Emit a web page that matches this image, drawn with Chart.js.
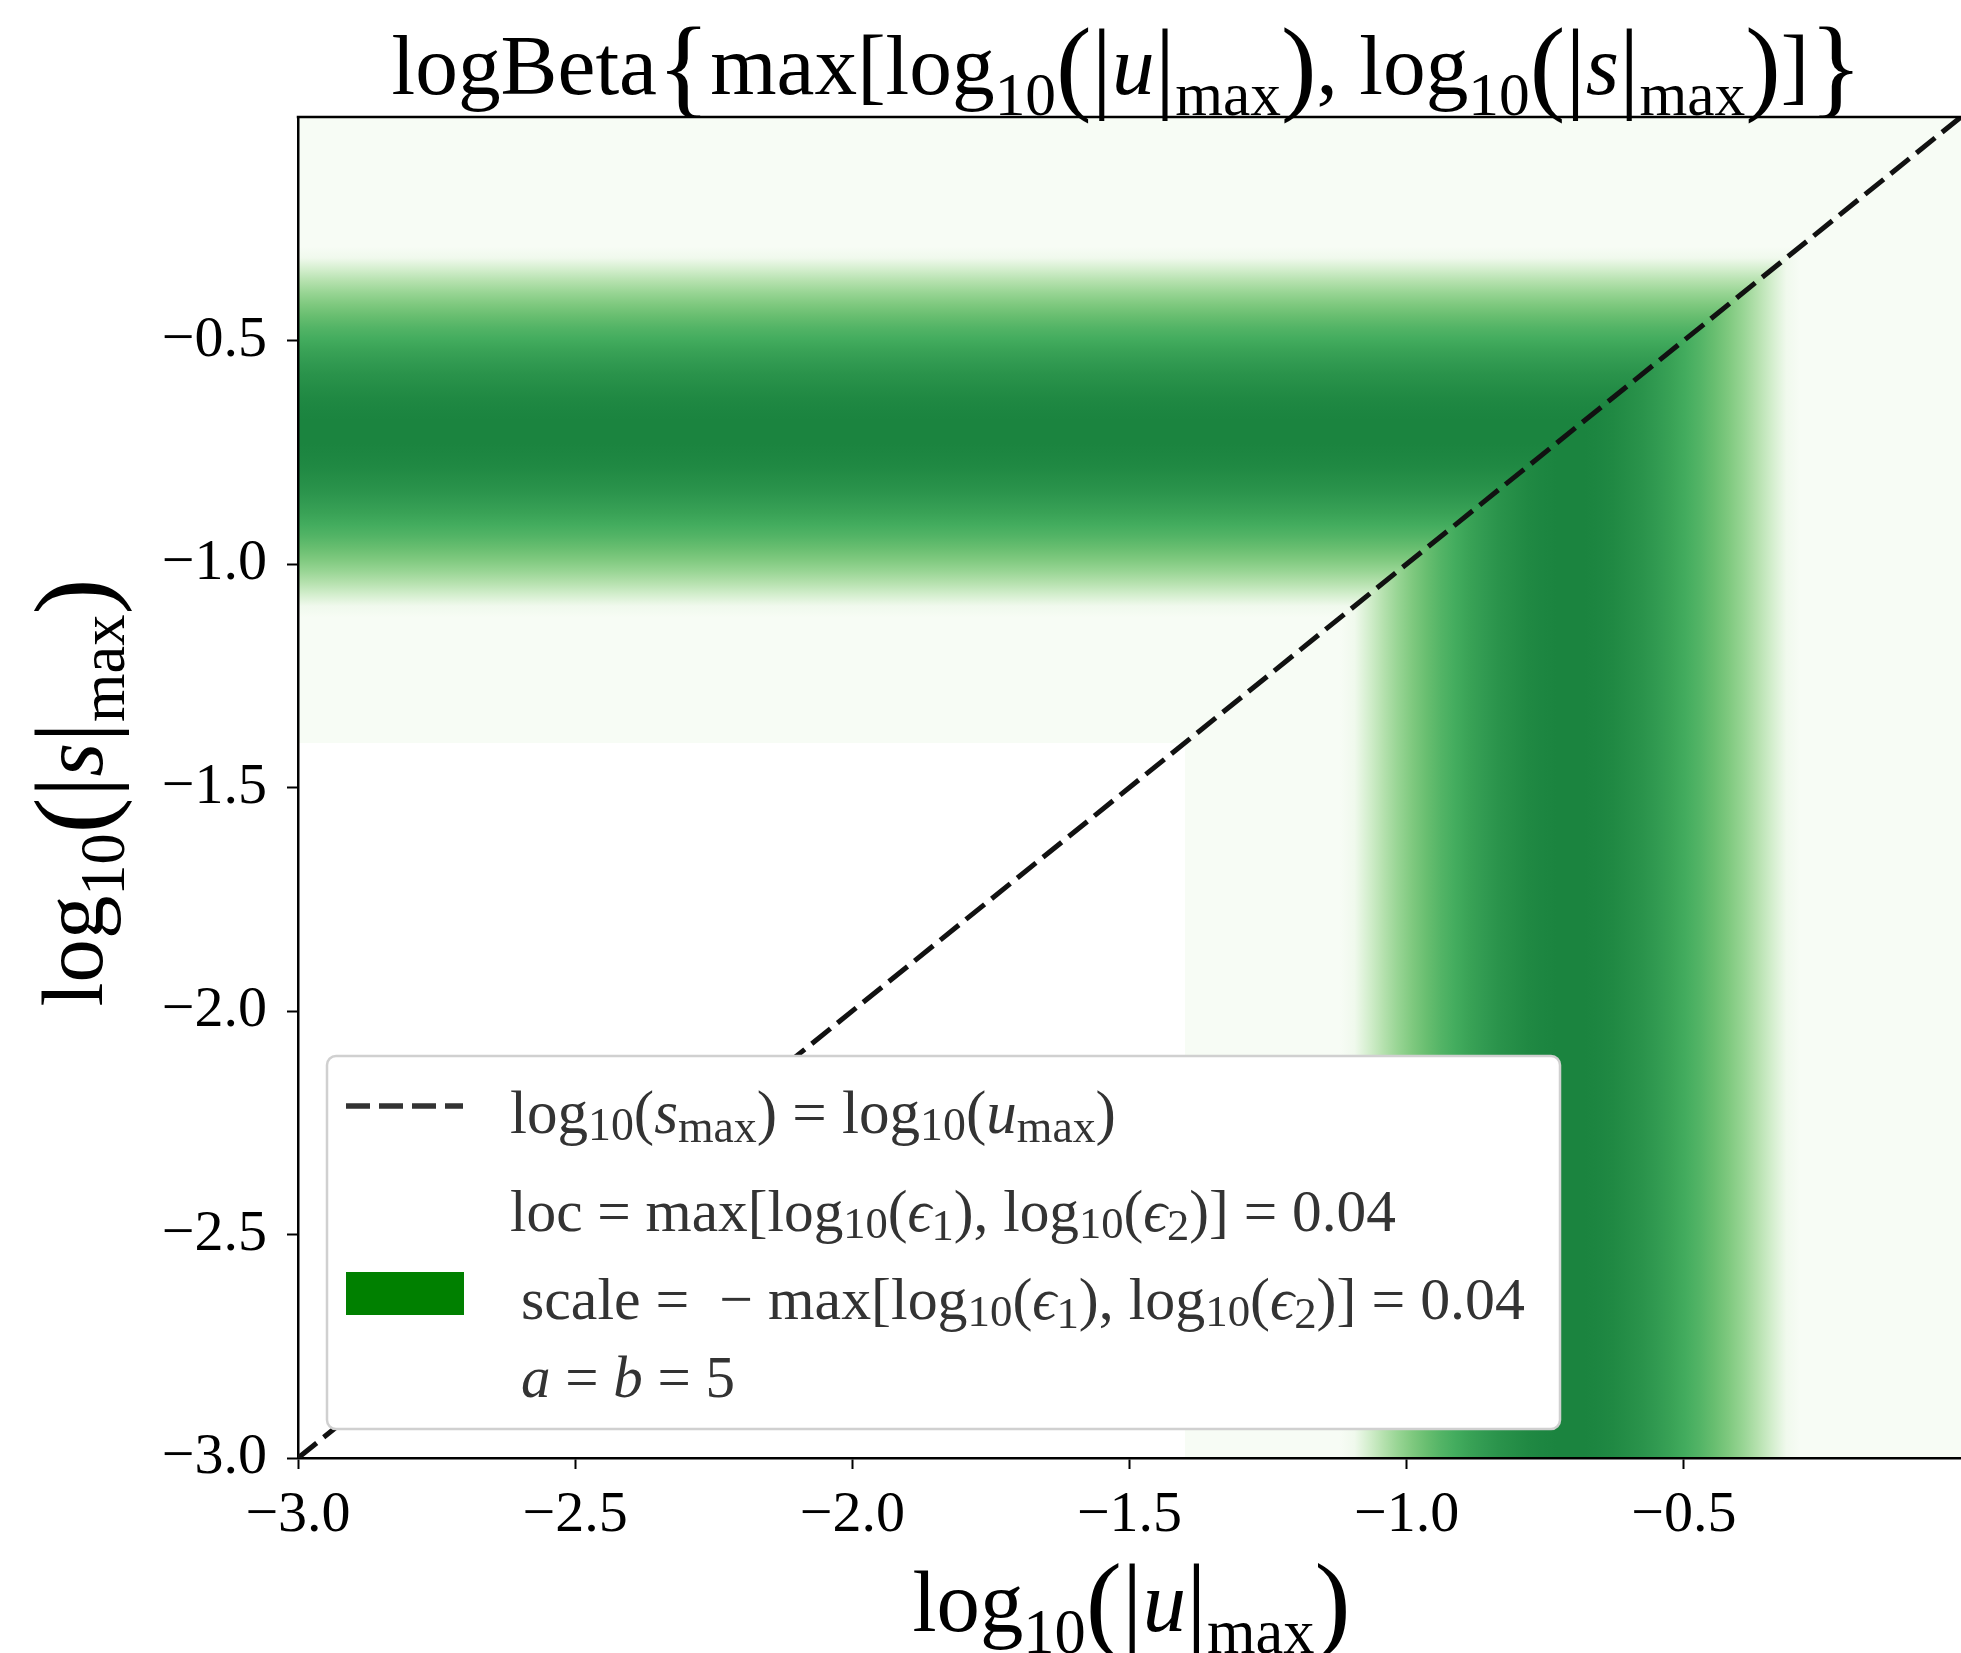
<!DOCTYPE html>
<html><head><meta charset="utf-8">
<script src="https://cdn.jsdelivr.net/npm/chart.js@4.4.1/dist/chart.umd.min.js"></script>
<style>html,body{margin:0;padding:0;background:#fff;overflow:hidden}canvas{display:block}</style>
</head><body>
<canvas id="c" width="1961" height="1653" style="width:1961px;height:1653px"></canvas>
<script>
// ---------------- data ----------------
const xTicks = [-3.0, -2.5, -2.0, -1.5, -1.0, -0.5];
const yTicks = [-3.0, -2.5, -2.0, -1.5, -1.0, -0.5];
const xRange = [-3, 0];
const yRange = [-3, 0];
const diagonalX = [-3, 0];
const diagonalY = [-3, 0];
// value depends on m = max(x, y); below supportMin there is no value (white)
const supportMin = -1.4;
const bandM = [-1.120, -1.094, -1.068, -1.042, -1.016, -0.990, -0.964, -0.938, -0.912, -0.886,
               -0.860, -0.834, -0.808, -0.782, -0.756, -0.730, -0.705, -0.679, -0.653, -0.627,
               -0.601, -0.575, -0.549, -0.523, -0.497, -0.471, -0.445, -0.419, -0.393, -0.367,
               -0.341, -0.315, -0.290];
const bandLevel = [0.00, 0.05, 0.20, 0.31, 0.40, 0.47, 0.53, 0.58, 0.62, 0.66,
                   0.69, 0.72, 0.74, 0.76, 0.77, 0.78, 0.78, 0.78, 0.77, 0.76,
                   0.74, 0.72, 0.69, 0.66, 0.62, 0.58, 0.53, 0.47, 0.40, 0.31,
                   0.20, 0.05, 0.00];
// matplotlib "Greens" colormap
const greens = [[247,252,245],[229,245,224],[199,233,192],[161,217,155],[116,196,118],
                [65,171,93],[35,139,69],[0,109,44],[0,68,27]];

// ---------------- text ----------------
const R = (t, s, dy) => ({t, s: s || 1, dy: dy || 0, it: false});
const I = (t, s, dy) => ({t, s: s || 1, dy: dy || 0, it: true});
const titleSegs = [R('logBeta'), R('{',1.3,0.1), R('max[log'), R('10',0.72,0.25), R('(',1.25,0.08),
  R('|',1.2,0.06), I('u'), R('|',1.2,0.06), R('max',0.72,0.25), R(')',1.25,0.08), R(', log'),
  R('10',0.72,0.25), R('(',1.25,0.08), R('|',1.2,0.06), I('s'), R('|',1.2,0.06), R('max',0.72,0.25),
  R(')',1.25,0.08), R(']'), R('}',1.3,0.1)];
const xLabelSegs = [R('log'), R('10',0.72,0.25), R('(',1.25,0.08), R('|',1.2,0.06), I('u'),
  R('|',1.2,0.06), R('max',0.72,0.25), R(')',1.25,0.08)];
const yLabelSegs = [R('log'), R('10',0.72,0.25), R('(',1.25,0.08), R('|',1.2,0.06), I('s'),
  R('|',1.2,0.06), R('max',0.72,0.25), R(')',1.25,0.08)];
const legendLines = [
  [R('log'), R('10',0.75,0.12), R('('), I('s'), R('max',0.75,0.15), R(')'), R(' = '), R('log'),
   R('10',0.75,0.12), R('('), I('u'), R('max',0.75,0.15), R(')')],
  [R('loc = max[log'), R('10',0.75,0.12), R('('), I('ϵ'), R('1',0.75,0.15), R('), log'),
   R('10',0.75,0.12), R('('), I('ϵ'), R('2',0.75,0.15), R(')] = 0.04')],
  [R('scale =  − max[log'), R('10',0.75,0.12), R('('), I('ϵ'), R('1',0.75,0.15), R('), log'),
   R('10',0.75,0.12), R('('), I('ϵ'), R('2',0.75,0.15), R(')] = 0.04')],
  [I('a'), R(' = '), I('b'), R(' = 5')]
];

// ---------------- helpers ----------------
const FAM = '"Liberation Serif", "DejaVu Serif", serif';
function fontStr(size, it) { return (it ? 'italic ' : '') + size.toFixed(2) + 'px ' + FAM; }
function measureRich(ctx, segs, B) {
  let w = 0;
  for (const s of segs) { ctx.font = fontStr(B * s.s, s.it); w += ctx.measureText(s.t).width; }
  return w;
}
function drawRich(ctx, segs, x, y, B) {
  ctx.textBaseline = 'alphabetic'; ctx.textAlign = 'left';
  let cx = x;
  for (const s of segs) {
    ctx.font = fontStr(B * s.s, s.it);
    ctx.fillText(s.t, cx, y + s.dy * B);
    cx += ctx.measureText(s.t).width;
  }
}
function fitSize(ctx, segs, targetW) { return 60 * targetW / measureRich(ctx, segs, 60); }
function greensColor(level) {
  if (level === null) return 'rgb(255,255,255)';
  const p = Math.max(0, Math.min(1, level)) * (greens.length - 1);
  const i = Math.min(greens.length - 2, Math.floor(p)), f = p - i;
  const c = greens[i].map((v, k) => Math.round(v + (greens[i + 1][k] - v) * f));
  return 'rgb(' + c.join(',') + ')';
}
function profileStops() {
  const st = [[xRange[0], null], [supportMin - 0.0005, null], [supportMin, 0]];
  for (let i = 0; i < bandM.length; i++) st.push([bandM[i], bandLevel[i]]);
  st.push([xRange[1], 0]);
  return st;
}
const fmt = v => (v < 0 ? '\u2212' : '') + Math.abs(v).toFixed(1);

// ---------------- plugins ----------------
const heatPlugin = {
  id: 'heat',
  beforeDraw(chart) {
    const {ctx, scales: {x, y}} = chart;
    ctx.save();
    ctx.fillStyle = '#fff'; ctx.fillRect(0, 0, chart.width, chart.height);
    const st = profileStops();
    const x0 = x.getPixelForValue(xRange[0]), x1 = x.getPixelForValue(xRange[1]);
    const y0 = y.getPixelForValue(yRange[0]), y1 = y.getPixelForValue(yRange[1]);
    const gx = ctx.createLinearGradient(x0, 0, x1, 0);
    const gy = ctx.createLinearGradient(0, y0, 0, y1);
    for (const [m, lv] of st) {
      gx.addColorStop((x.getPixelForValue(m) - x0) / (x1 - x0), greensColor(lv));
      gy.addColorStop((y.getPixelForValue(m) - y0) / (y1 - y0), greensColor(lv));
    }
    // region where x is the max
    ctx.fillStyle = gx;
    ctx.fillRect(x0, y1, x1 - x0, y0 - y1);
    // region where y is the max (upper-left triangle)
    ctx.beginPath();
    ctx.moveTo(x0, y0); ctx.lineTo(x0, y1); ctx.lineTo(x1, y1); ctx.closePath();
    ctx.fillStyle = gy; ctx.fill();
    ctx.restore();
  }
};

const overlayPlugin = {
  id: 'overlay',
  afterDraw(chart) {
    const {ctx, chartArea: a} = chart;
    ctx.save();
    // top spine
    ctx.strokeStyle = '#000'; ctx.lineWidth = 2.5;
    ctx.beginPath(); ctx.moveTo(a.left - 1.25, a.top); ctx.lineTo(a.right, a.top); ctx.stroke();
    ctx.fillStyle = '#000';
    // title
    let B = fitSize(ctx, titleSegs, 1471);
    let w = measureRich(ctx, titleSegs, B);
    drawRich(ctx, titleSegs, 1127 - w / 2, 94, B);
    // x label
    B = fitSize(ctx, xLabelSegs, 438);
    w = measureRich(ctx, xLabelSegs, B);
    drawRich(ctx, xLabelSegs, (a.left + a.right) / 2 + 2 - w / 2, 1631, B);
    // y label
    B = fitSize(ctx, yLabelSegs, 428);
    w = measureRich(ctx, yLabelSegs, B);
    ctx.save(); ctx.translate(102, (a.top + a.bottom) / 2 + 5); ctx.rotate(-Math.PI / 2);
    drawRich(ctx, yLabelSegs, -w / 2, 0, B);
    ctx.restore();
    // legend box
    const lx = 327, ly = 1056, lw = 1233, lh = 373, r = 9;
    ctx.beginPath();
    ctx.moveTo(lx + r, ly); ctx.arcTo(lx + lw, ly, lx + lw, ly + lh, r);
    ctx.arcTo(lx + lw, ly + lh, lx, ly + lh, r); ctx.arcTo(lx, ly + lh, lx, ly, r);
    ctx.arcTo(lx, ly, lx + lw, ly, r); ctx.closePath();
    ctx.fillStyle = '#fff'; ctx.fill();
    ctx.strokeStyle = '#d0d0d0'; ctx.lineWidth = 2.5; ctx.stroke();
    // handles
    ctx.strokeStyle = '#333'; ctx.lineWidth = 5.5; ctx.setLineDash([24, 9]);
    ctx.beginPath(); ctx.moveTo(346, 1106); ctx.lineTo(463, 1106); ctx.stroke();
    ctx.setLineDash([]);
    ctx.fillStyle = '#008000'; ctx.fillRect(346, 1272, 118, 43);
    // legend texts
    ctx.fillStyle = '#333';
    const lt = [[510, 1133, 606], [510, 1231, 886], [521, 1319, 1004], [521, 1397, 214]];
    legendLines.forEach((segs, i) => {
      const [tx, ty, tw] = lt[i];
      drawRich(ctx, segs, tx, ty, fitSize(ctx, segs, tw));
    });
    ctx.restore();
  }
};

// ---------------- chart ----------------
const tickFont = {family: 'Liberation Serif', size: 58};
new Chart(document.getElementById('c'), {
  type: 'scatter',
  data: {
    datasets: [{
      data: diagonalX.map((v, i) => ({x: v, y: diagonalY[i]})),
      showLine: true, borderColor: '#111', borderWidth: 5, borderDash: [24, 9],
      pointRadius: 0, fill: false
    }]
  },
  options: {
    responsive: false, animation: false, devicePixelRatio: 1,
    layout: {padding: {top: 117, left: 0, right: 0, bottom: 0}},
    plugins: {legend: {display: false}, tooltip: {enabled: false}, title: {display: false}},
    scales: {
      x: {
        type: 'linear', position: 'bottom', min: xRange[0], max: xRange[1],
        afterBuildTicks: s => { s.ticks = xTicks.map(v => ({value: v})); },
        afterFit: s => { s.height = 195; },
        grid: {display: true, drawOnChartArea: false, drawTicks: true, tickLength: 11,
               tickWidth: 2, tickColor: '#000'},
        border: {display: true, color: '#000', width: 2.5},
        ticks: {font: tickFont, color: '#000', padding: 12, maxRotation: 0, autoSkip: false,
                callback: v => fmt(v)}
      },
      y: {
        type: 'linear', position: 'left', min: yRange[0], max: yRange[1],
        afterBuildTicks: s => { s.ticks = yTicks.map(v => ({value: v})); },
        afterFit: s => { s.width = 298; },
        grid: {display: true, drawOnChartArea: false, drawTicks: true, tickLength: 11,
               tickWidth: 2, tickColor: '#000'},
        border: {display: true, color: '#000', width: 2.5},
        ticks: {font: tickFont, color: '#000', padding: 20, autoSkip: false,
                callback: v => fmt(v)}
      }
    }
  },
  plugins: [heatPlugin, overlayPlugin]
});
</script>
</body></html>
